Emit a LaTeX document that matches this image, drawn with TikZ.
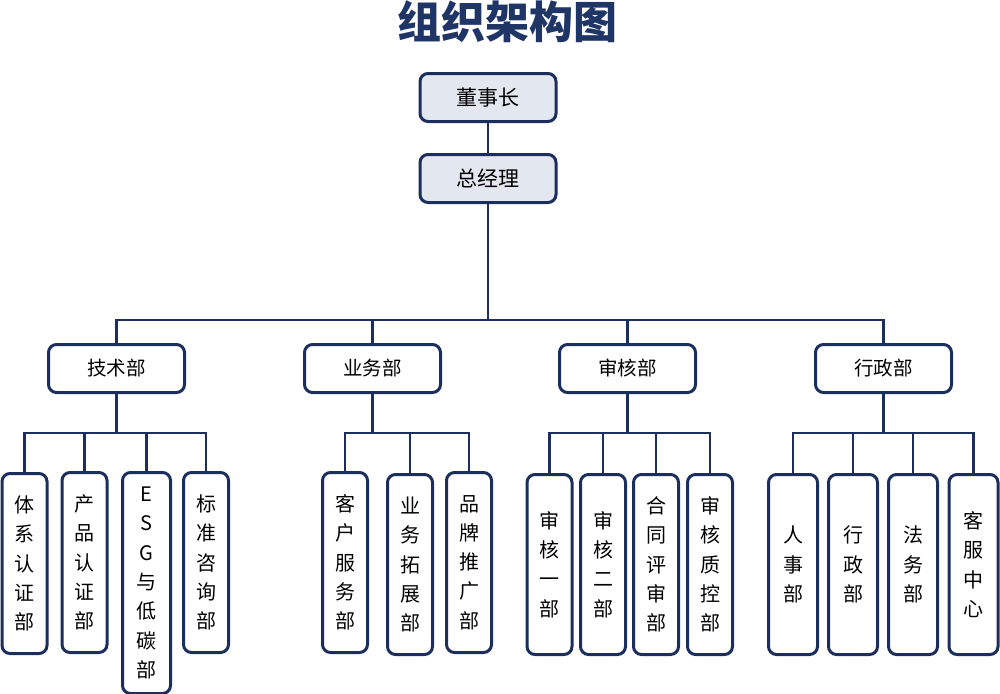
\documentclass[tikz,border=0pt]{standalone}
\usepackage{fontspec}
\setmainfont{Noto Sans CJK SC}
\definecolor{navy}{HTML}{1B2E5C}
\definecolor{titleblue}{HTML}{1F3566}
\definecolor{topfill}{HTML}{E3E7EF}
\tikzset{
  box/.style={draw=navy, line width=3pt, rounded corners=8pt, fill=white, inner sep=0pt, align=center},
  topbox/.style={box, fill=topfill, minimum width=136pt, minimum height=48pt, font=\fontsize{21}{25}\selectfont},
  deptbox/.style={box, minimum width=136pt, minimum height=48pt, font=\fontsize{19.5}{24}\selectfont},
  leafbox/.style={box, anchor=north, minimum width=45pt, font=\fontsize{20}{29.3}\selectfont},
  conn/.style={draw=navy, line width=2.5pt},
}
\begin{document}
\begin{tikzpicture}[x=1pt,y=-1pt]
\useasboundingbox (0,0) rectangle (1000,693);
\node[font=\fontsize{44}{50}\selectfont\bfseries, text=titleblue, inner sep=0pt] (title) at (507.5,22) {组织架构图};

\node[topbox] (ceo) at (488,97.5) {董事长};
\node[topbox] (gm) at (488,178.5) {总经理};

\coordinate (bus) at (0,320);
\coordinate (sub) at (0,433);

\node[deptbox] (d1) at (116.5,368.5) {技术部};
\node[deptbox] (d2) at (372.5,368.5) {业务部};
\node[deptbox] (d3) at (627.5,368.5) {审核部};
\node[deptbox] (d4) at (883.5,368.5) {行政部};

% tech leaves
\node[leafbox, minimum height=180pt] (t1) at (24.5,472) {体\\系\\认\\证\\部};
\node[leafbox, minimum height=180pt] (t2) at (84.5,471) {产\\品\\认\\证\\部};
\node[leafbox, minimum height=221pt, minimum width=48pt] (t3) at (146.5,471) {E\\S\\G\\与\\低\\碳\\部};
\node[leafbox, minimum height=180pt] (t4) at (206,471) {标\\准\\咨\\询\\部};

% business leaves
\node[leafbox, minimum height=180pt] (b1) at (345,471) {客\\户\\服\\务\\部};
\node[leafbox, minimum height=180pt] (b2) at (410,473) {业\\务\\拓\\展\\部};
\node[leafbox, minimum height=180pt] (b3) at (469,471) {品\\牌\\推\\广\\部};

% audit leaves
\node[leafbox, minimum height=180pt] (a1) at (549.5,473) {审\\核\\一\\部};
\node[leafbox, minimum height=180pt] (a2) at (603,473) {审\\核\\二\\部};
\node[leafbox, minimum height=180pt] (a3) at (656,473) {合\\同\\评\\审\\部};
\node[leafbox, minimum height=180pt] (a4) at (710,473) {审\\核\\质\\控\\部};

% admin leaves
\node[leafbox, minimum height=180pt, minimum width=49pt] (m1) at (793,473) {人\\事\\部};
\node[leafbox, minimum height=180pt, minimum width=49pt] (m2) at (853,473) {行\\政\\部};
\node[leafbox, minimum height=180pt, minimum width=49pt] (m3) at (913,473) {法\\务\\部};
\node[leafbox, minimum height=180pt, minimum width=49pt] (m4) at (973.5,473) {客\\服\\中\\心};

% top connectors
\draw[conn] (ceo.south) -- (gm.north);
\draw[conn] (gm.south) -- (gm |- bus);
\draw[conn] (d1.north) |- (gm |- bus) -| (d4.north);
\draw[conn] (d2.north) -- (d2 |- bus);
\draw[conn] (d3.north) -- (d3 |- bus);

% tech
\draw[conn] (d1.south) -- (d1 |- sub);
\draw[conn] (t1.north) |- (d1 |- sub) -| (t4.north);
\draw[conn] (t2.north) -- (t2.north |- sub);
\draw[conn] (t3.north) -- (t3.north |- sub);

% business
\draw[conn] (d2.south) -- (d2 |- sub);
\draw[conn] (b1.north) |- (d2 |- sub) -| (b3.north);
\draw[conn] (b2.north) -- (b2.north |- sub);

% audit
\draw[conn] (d3.south) -- (d3 |- sub);
\draw[conn] (a1.north) |- (d3 |- sub) -| (a4.north);
\draw[conn] (a2.north) -- (a2.north |- sub);
\draw[conn] (a3.north) -- (a3.north |- sub);

% admin
\draw[conn] (d4.south) -- (d4 |- sub);
\draw[conn] (m1.north) |- (d4 |- sub) -| (m4.north);
\draw[conn] (m2.north) -- (m2.north |- sub);
\draw[conn] (m3.north) -- (m3.north |- sub);
\end{tikzpicture}
\end{document}
